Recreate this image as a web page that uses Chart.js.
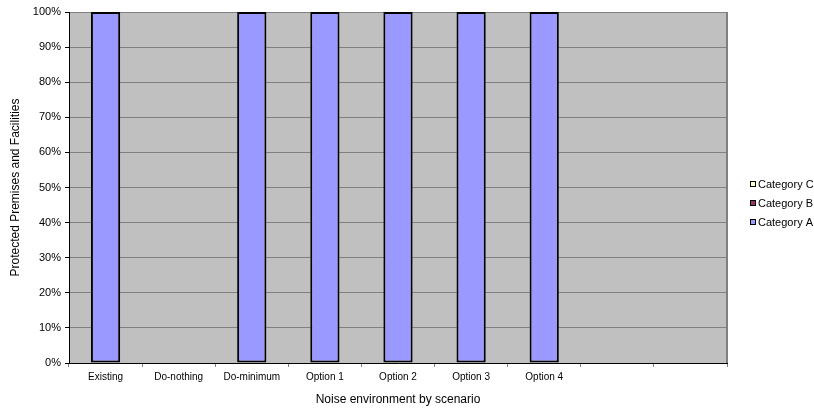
<!DOCTYPE html>
<html>
<head>
<meta charset="utf-8">
<script src="https://cdn.jsdelivr.net/npm/chart.js@4/dist/chart.umd.min.js"></script>
<style>
  html, body { margin: 0; padding: 0; background: #fff; }
  #wrap { width: 814px; height: 409px; position: relative; }
</style>
</head>
<body>
<div id="wrap"><canvas id="chart" width="814" height="409"></canvas></div>
<script>
// Scenarios along the x axis (the last two slots are unlabelled)
const scenarios = ['Existing', 'Do-nothing', 'Do-minimum', 'Option 1', 'Option 2', 'Option 3', 'Option 4', '', ''];

// Share of protected premises and facilities in each category (%)
const categoryA = [100, 0, 100, 100, 100, 100, 100, 0, 0];
const categoryB = [0, 0, 0, 0, 0, 0, 0, 0, 0];
const categoryC = [0, 0, 0, 0, 0, 0, 0, 0, 0];

const seriesNames = ['Category A', 'Category B', 'Category C'];
const seriesColors = ['#9999FF', '#993366', '#FFFFCC'];

// Percent tick labels on the value axis
const percentTicks = [0, 10, 20, 30, 40, 50, 60, 70, 80, 90, 100];

const FONT = "'Liberation Sans', Arial, sans-serif";

// Grey plot area with a grey frame on the right
const plotBackground = {
  id: 'plotBackground',
  beforeDraw(chart) {
    const { ctx, chartArea: a } = chart;
    ctx.save();
    ctx.fillStyle = '#C0C0C0';
    ctx.fillRect(a.left, a.top, a.right - a.left, a.bottom - a.top);
    ctx.restore();
  },
  afterDraw(chart) {
    const { ctx, chartArea: a } = chart;
    ctx.save();
    ctx.strokeStyle = '#808080';
    ctx.lineWidth = 2;
    ctx.beginPath();
    ctx.moveTo(a.right, a.top);
    ctx.lineTo(a.right, a.bottom);
    ctx.stroke();
    ctx.restore();
  }
};

// Legend to the right of the plot, top entry is the top of the stack
const sideLegend = {
  id: 'sideLegend',
  afterDraw(chart) {
    const { ctx } = chart;
    const items = chart.data.datasets.map(d => ({ label: d.label, color: d.backgroundColor })).reverse();
    const x = 750, y0 = 184, step = 19, box = 6;
    ctx.save();
    ctx.font = '11px ' + FONT;
    ctx.textBaseline = 'middle';
    ctx.textAlign = 'left';
    items.forEach((it, i) => {
      const y = y0 + i * step;
      ctx.fillStyle = it.color;
      ctx.fillRect(x, y - box / 2, box, box);
      ctx.strokeStyle = '#000';
      ctx.lineWidth = 1;
      ctx.strokeRect(x + 0.5, y - box / 2 + 0.5, box - 1, box - 1);
      ctx.fillStyle = '#000';
      ctx.fillText(it.label, x + 8, y + 1);
    });
    ctx.restore();
  }
};

const barBorder = c => (c.raw ? 2 : 0);

new Chart(document.getElementById('chart'), {
  type: 'bar',
  data: {
    labels: scenarios,
    datasets: [categoryA, categoryB, categoryC].map((vals, i) => ({
      label: seriesNames[i],
      data: vals,
      backgroundColor: seriesColors[i],
      borderColor: '#000',
      borderWidth: barBorder,
      borderSkipped: false,
      categoryPercentage: 1,
      barPercentage: 0.4
    }))
  },
  plugins: [plotBackground, sideLegend],
  options: {
    responsive: false,
    animation: false,
    devicePixelRatio: 1,
    layout: { padding: { top: 12, right: 87, left: 0, bottom: 0 } },
    plugins: {
      legend: { display: false },
      tooltip: { enabled: false }
    },
    scales: {
      x: {
        stacked: true,
        afterFit: s => { s.height = 46; },
        grid: {
          offset: true,
          drawOnChartArea: false,
          drawTicks: true,
          tickLength: 4,
          tickColor: '#808080'
        },
        border: { display: true, color: '#000', width: 1 },
        ticks: {
          color: '#000',
          font: { family: FONT, size: 10 },
          padding: 4,
          maxRotation: 0,
          autoSkip: false
        },
        title: {
          display: true,
          text: 'Noise environment by scenario',
          color: '#000',
          font: { family: FONT, size: 12 },
          padding: { top: 0, bottom: 2 }
        }
      },
      y: {
        stacked: true,
        min: 0,
        max: 100,
        afterFit: s => { s.width = 69; },
        afterBuildTicks: s => { s.ticks = percentTicks.map(v => ({ value: v })); },
        grid: {
          color: '#808080',
          lineWidth: 1,
          drawTicks: true,
          tickLength: 4,
          tickColor: '#000'
        },
        border: { display: true, color: '#000', width: 1 },
        ticks: {
          color: '#000',
          font: { family: FONT, size: 11 },
          padding: 4,
          callback: v => v + '%'
        },
        title: {
          display: true,
          text: 'Protected Premises and Facilities',
          color: '#000',
          font: { family: FONT, size: 12 },
          padding: { top: 8, bottom: 0 }
        }
      }
    }
  }
});
</script>
</body>
</html>
